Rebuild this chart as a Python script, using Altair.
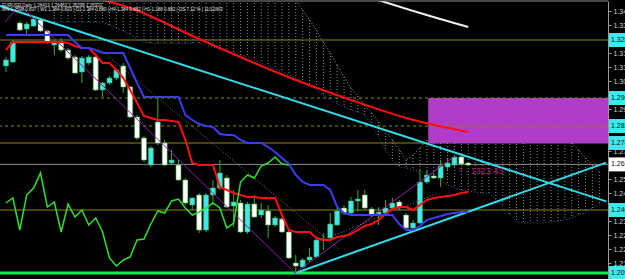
import altair as alt
import pandas as pd

# ---------------- data (EURUSD, Daily) ----------------
opens = [1.3125,1.3145,1.3340,1.3310,1.3325,1.3355,1.3300,1.3230,1.3245,1.3205,
         1.3170,1.3095,1.3140,1.3170,1.3005,1.3040,1.3065,1.3125,1.3020,1.2870,
         1.2765,1.2630,1.2845,1.2740,1.2640,1.2630,1.2555,1.2430,1.2480,1.2305,
         1.2480,1.2515,1.2565,1.2425,1.2440,1.2295,1.2435,1.2380,1.2400,1.2330,
         1.2360,1.2295,1.2140,1.2120,1.2155,1.2170,1.2255,1.2265,1.2330,1.2415,
         1.2390,1.2450,1.2480,1.2410,1.2380,1.2390,1.2415,1.2445,1.2380,1.2315,
         1.2340,1.2545,1.2575,1.2565,1.2620,1.2630,1.2670,1.2640]
highs = [1.3170,1.3255,1.3350,1.3345,1.3370,1.3365,1.3305,1.3255,1.3265,1.3215,
         1.3180,1.3175,1.3180,1.3175,1.3045,1.3075,1.3110,1.3140,1.3025,1.2880,
         1.2775,1.2725,1.2965,1.2755,1.2705,1.2655,1.2565,1.2470,1.2490,1.2490,
         1.2555,1.2655,1.2580,1.2505,1.2455,1.2445,1.2480,1.2440,1.2430,1.2375,
         1.2370,1.2305,1.2180,1.2165,1.2215,1.2265,1.2290,1.2390,1.2415,1.2430,
         1.2470,1.2505,1.2505,1.2420,1.2420,1.2455,1.2465,1.2455,1.2390,1.2355,
         1.2605,1.2605,1.2585,1.2655,1.2665,1.2680,1.2680,1.2645]
lows = [1.3095,1.3140,1.3300,1.3280,1.3320,1.3295,1.3235,1.3180,1.3195,1.3155,
        1.3085,1.3040,1.3130,1.3000,1.2970,1.3030,1.3055,1.2990,1.2865,1.2755,
        1.2645,1.2620,1.2730,1.2625,1.2630,1.2550,1.2430,1.2405,1.2290,1.2295,
        1.2430,1.2505,1.2415,1.2320,1.2290,1.2285,1.2365,1.2365,1.2265,1.2320,
        1.2290,1.2160,1.2095,1.2115,1.2145,1.2165,1.2205,1.2255,1.2325,1.2380,
        1.2385,1.2395,1.2410,1.2370,1.2330,1.2385,1.2410,1.2405,1.2310,1.2305,
        1.2335,1.2535,1.2560,1.2520,1.2605,1.2620,1.2630,1.2625]
closes = [1.3155,1.3245,1.3305,1.3335,1.3360,1.3300,1.3245,1.3245,1.3205,1.3165,
          1.3090,1.3165,1.3170,1.3005,1.3040,1.3065,1.3105,1.3020,1.2870,1.2765,
          1.2655,1.2715,1.2740,1.2630,1.2655,1.2555,1.2440,1.2465,1.2305,1.2480,
          1.2515,1.2590,1.2420,1.2445,1.2295,1.2435,1.2370,1.2405,1.2330,1.2365,
          1.2295,1.2165,1.2125,1.2155,1.2170,1.2255,1.2260,1.2335,1.2400,1.2390,
          1.2450,1.2460,1.2415,1.2380,1.2395,1.2415,1.2440,1.2415,1.2315,1.2340,
          1.2545,1.2580,1.2565,1.2625,1.2640,1.2670,1.2635,1.2630]

tenkan = [1.3205,1.3245,1.3245,1.3245,1.3245,1.3245,1.3245,1.3245,1.3245,1.3240,
          1.3225,1.3215,1.3215,1.3180,1.3140,1.3140,1.3105,1.3065,1.3005,1.2940,
          1.2875,1.2865,1.2855,1.2855,1.2850,1.2845,1.2755,1.2640,1.2630,1.2630,
          1.2630,1.2520,1.2505,1.2490,1.2480,1.2470,1.2470,1.2465,1.2465,1.2465,
          1.2380,1.2305,1.2295,1.2295,1.2295,1.2265,1.2255,1.2255,1.2270,1.2275,
          1.2285,1.2305,1.2325,1.2335,1.2355,1.2385,1.2410,1.2420,1.2420,1.2405,
          1.2430,1.2455,1.2465,1.2470,1.2475,1.2480,1.2490,1.2495]
kijun = [1.3280,1.3280,1.3280,1.3280,1.3280,1.3280,1.3280,1.3280,1.3280,1.3280,
         1.3245,1.3215,1.3215,1.3205,1.3190,1.3190,1.3190,1.3190,1.3115,1.3040,
         1.2970,1.2970,1.2970,1.2970,1.2970,1.2970,1.2880,1.2855,1.2835,1.2825,
         1.2820,1.2785,1.2780,1.2780,1.2755,1.2740,1.2740,1.2740,1.2720,1.2695,
         1.2665,1.2635,1.2580,1.2545,1.2530,1.2530,1.2530,1.2505,1.2420,1.2390,
         1.2380,1.2380,1.2380,1.2380,1.2380,1.2380,1.2380,1.2335,1.2305,1.2305,
         1.2325,1.2355,1.2365,1.2375,1.2385,1.2390,1.2395,1.2395]
chikou_shift = 26

# Kumo (cloud) from bar 7 to bar 86 (shifted forward)
cloud_start = 7
span_up = [1.3470]*35 + [
    1.3455,1.3405,1.3355,1.3305,1.3245,1.3190,1.3130,1.3070,1.3015,1.2975,
    1.2930,1.2890,1.2845,1.2805,1.2755,1.2705,1.2655,1.2680,1.2715,1.2755,
    1.2785,1.2815,1.2830,1.2845,1.2855,1.2855,1.2855,1.2855,1.2855,1.2855,
    1.2855,1.2855,1.2855,1.2845,1.2835,1.2820,1.2805,1.2790,1.2775,1.2760,
    1.2740,1.2705,1.2665,1.2630,1.2595]
span_lo = [1.3345]*8 + [1.3330,1.3315,1.3300,1.3280,1.3260,1.3245] + [1.3240]*8 + [
    1.3230,1.3220,1.3210,1.3200,1.3190,1.3180,1.3170,1.3155,1.3140,1.3125,1.3110,1.3095,
    1.3080,1.3065,1.3045,1.3025,1.3005,1.2980,1.2955,1.2935,1.2920,1.2905,1.2895,1.2880,
    1.2830,1.2770,1.2705,1.2655,1.2620,1.2615,1.2605,1.2600,1.2590,1.2580,1.2555,1.2530,
    1.2515,1.2505,1.2500,1.2495,1.2490,1.2490,1.2455,1.2420,1.2380,1.2345,1.2340,1.2340,
    1.2340,1.2340,1.2345,1.2350,1.2355,1.2365,1.2380,1.2395,1.2415,1.2430]

# long moving averages
ma_red_bar = [13, 18, 28, 42, 50, 58, 67]
ma_red_val = [1.3465, 1.3415, 1.3260, 1.3055, 1.2955, 1.2865, 1.2795]
ma_white_bar = [53, 60, 67]
ma_white_val = [1.3465, 1.3390, 1.3320]

# trend lines
trend_down_bar = [-1, 87]
trend_down_val = [1.3427, 1.2448]
trend_up_bar = [42, 87]
trend_up_val = [1.2090, 1.2642]
zigzag_bar = [-0.14, 2.0, 41.9, 65.1]
zigzag_val = [1.3345, 1.3430, 1.2090, 1.2675]
gray1_bar = [13.4, 48.3]
gray1_val = [1.3215, 1.2210]
gray2_bar = [46.9, 62.6]
gray2_val = [1.2270, 1.2490]

# horizontal levels
levels_solid = [1.3255, 1.2740, 1.2405]
levels_dash = [1.2965, 1.2825]
bid_price = 1.2633
support = 1.2090

# zone rectangle
zone_bar = [61.2, 90]
zone_val = [1.2965, 1.2740]

# price axis
tick_vals = [1.340, 1.333, 1.319, 1.312, 1.305, 1.291, 1.270, 1.256, 1.249,
             1.235, 1.228, 1.221, 1.214]
hl_prices = [1.3255, 1.2965, 1.2825, 1.2740, 1.2633, 1.2405, 1.2090]
hl_labels = ["1.32550", "1.29650", "1.28250", "1.27400", "1.26330", "1.24050", "1.20900"]
hl_kind = ["lvl", "lvl", "lvl", "lvl", "bid", "lvl", "sup"]

header1 = "EURUSD,Daily  1.26413 1.26462 1.26299 1.26331"
header2 = "MN 1.2598 0.837 | W1 1.384 0.833 | D1 1.384 0.880 | H4 1.384 0.882 | H1 1.188 0.882 | DS 7.12 % | 11/12/8/3"
timer_text = "^ \u00b7 1323:43"
timer_bar, timer_val = 65.6, 1.2598

# ---------------- frames ----------------
n = len(opens)
candles = pd.DataFrame({"i": list(range(n)), "open": opens, "high": highs,
                        "low": lows, "close": closes})
candles["dir"] = ["up" if c >= o else "down" for o, c in zip(opens, closes)]
ichi = pd.DataFrame({"i": list(range(n)), "tenkan": tenkan, "kijun": kijun})
chik = pd.DataFrame({"i": [k - chikou_shift for k in range(chikou_shift, n)],
                     "v": closes[chikou_shift:]})
cloud = pd.DataFrame({"i": list(range(cloud_start, cloud_start + len(span_up))),
                      "a": span_up, "b": span_lo})

def line_df(b, v):
    return pd.DataFrame({"i": b, "v": v})

X = alt.Scale(domain=[-0.1426, 86.53], nice=False, zero=False)
Y = alt.Scale(domain=[1.2060, 1.3450], nice=False, zero=False)
xq = lambda f="i": alt.X(f"{f}:Q", scale=X, axis=None)
yq = lambda f: alt.Y(f"{f}:Q", scale=Y, axis=None)

# cloud hatch
hatch = alt.Chart(cloud).mark_rule(color="#8c8c8c", strokeDash=[1, 2], strokeWidth=1, clip=True).encode(
    x=xq(), y=yq("a"), y2="b")
cl_a = alt.Chart(cloud).mark_line(color="#a89a70", strokeDash=[1, 2], strokeWidth=1, clip=True).encode(
    x=xq(), y=yq("a"))
cl_b = alt.Chart(cloud).mark_line(color="#3c6cb0", strokeDash=[1, 2], strokeWidth=1, clip=True).encode(
    x=xq(), y=yq("b"))

# zone
zone = alt.Chart(pd.DataFrame({"x1": [zone_bar[0]], "x2": [zone_bar[1]],
                               "t": [zone_val[0]], "b": [zone_val[1]]})).mark_rect(
    color="#b03cc8", clip=True).encode(x=xq("x1"), x2="x2", y=yq("t"), y2="b")

# levels (with the price axis)
lv_solid = alt.Chart(pd.DataFrame({"v": levels_solid})).mark_rule(
    color="#8a8a10", strokeWidth=1).encode(
    y=alt.Y("v:Q", scale=Y, axis=alt.Axis(orient="right", values=tick_vals, format=".5f",
                                          title=None, grid=False, labelColor="#d0d0d0",
                                          labelFont="Liberation Sans", labelFontSize=7,
                                          domainColor="#9a9a9a", tickColor="#9a9a9a",
                                          tickSize=3, labelPadding=2)))
lv_dash = alt.Chart(pd.DataFrame({"v": levels_dash})).mark_rule(
    color="#8a8a10", strokeWidth=1, strokeDash=[3, 3]).encode(y=yq("v"))
bid = alt.Chart(pd.DataFrame({"v": [bid_price]})).mark_rule(
    color="#8c8c8c", strokeWidth=1).encode(y=yq("v"))
sup = alt.Chart(pd.DataFrame({"v": [support]})).mark_rule(
    color="#00f050", strokeWidth=3).encode(y=yq("v"))

# candles
wick = alt.Chart(candles).mark_rule(color="#3ca83c", strokeWidth=1).encode(
    x=xq(), y=yq("low"), y2="high")
body = alt.Chart(candles).mark_bar(size=5, stroke="#3ca83c", strokeWidth=0.6).encode(
    x=xq(), y=yq("open"), y2="close",
    color=alt.Color("dir:N", scale=alt.Scale(domain=["up", "down"], range=["#3ee8ec", "#ffffff"]),
                    legend=None))

# ichimoku lines
ten = alt.Chart(ichi).mark_line(color="#ff1010", strokeWidth=2, clip=True).encode(x=xq(), y=yq("tenkan"))
kij = alt.Chart(ichi).mark_line(color="#3c3cf0", strokeWidth=2, clip=True).encode(x=xq(), y=yq("kijun"))
chl = alt.Chart(chik).mark_line(color="#30e030", strokeWidth=1.5, clip=True).encode(x=xq(), y=yq("v"))

ma_r = alt.Chart(line_df(ma_red_bar, ma_red_val)).mark_line(
    color="#ff1010", strokeWidth=2, clip=True, interpolate="monotone").encode(x=xq(), y=yq("v"))
ma_w = alt.Chart(line_df(ma_white_bar, ma_white_val)).mark_line(
    color="#f0f0f0", strokeWidth=2, clip=True, interpolate="monotone").encode(x=xq(), y=yq("v"))

td = alt.Chart(line_df(trend_down_bar, trend_down_val)).mark_line(
    color="#30dcea", strokeWidth=2, clip=True).encode(x=xq(), y=yq("v"))
tu = alt.Chart(line_df(trend_up_bar, trend_up_val)).mark_line(
    color="#30dcea", strokeWidth=2, clip=True).encode(x=xq(), y=yq("v"))
zz = alt.Chart(line_df(zigzag_bar, zigzag_val)).mark_line(
    color="#9020a8", strokeWidth=1, clip=True).encode(x=xq(), y=yq("v"))
g1 = alt.Chart(line_df(gray1_bar, gray1_val)).mark_line(
    color="#7c7c7c", strokeWidth=1, strokeDash=[1, 2], clip=True).encode(x=xq(), y=yq("v"))
g2 = alt.Chart(line_df(gray2_bar, gray2_val)).mark_line(
    color="#7c7c7c", strokeWidth=1, strokeDash=[1, 2], clip=True).encode(x=xq(), y=yq("v"))

timer = alt.Chart(pd.DataFrame({"i": [timer_bar], "v": [timer_val], "t": [timer_text]})).mark_text(
    color="#b02878", fontSize=9, font="Liberation Sans", align="left", baseline="middle").encode(
    x=xq(), y=yq("v"), text="t:N")

# highlighted axis labels
hl = pd.DataFrame({"v": hl_prices, "lab": hl_labels, "kind": hl_kind})
hl["t"] = hl["v"] + 0.0035
hl["b"] = hl["v"] - 0.0035
kind_scale = alt.Scale(domain=["lvl", "bid", "sup"], range=["#c8cc10", "#dcdcdc", "#10e050"])
hl_box = alt.Chart(hl).mark_rect().encode(
    x=alt.value(609), x2=alt.value(640), y=yq("t"), y2="b",
    color=alt.Color("kind:N", scale=kind_scale, legend=None))
hl_txt = alt.Chart(hl).mark_text(color="#101010", fontSize=7, font="Liberation Sans",
                                 align="left", baseline="middle").encode(
    x=alt.value(611), y=yq("v"), text="lab:N")

top_border = alt.Chart(pd.DataFrame({"k": [0]})).mark_rule(color="#8c8c8c").encode(
    x=alt.value(0), x2=alt.value(608), y=alt.value(0))

head = alt.Chart(pd.DataFrame({"t": [header1, header2], "row": [0, 1]})).mark_text(
    color="#e0e0e0", fontSize=4.5, font="Liberation Sans", align="left", baseline="middle").encode(
    x=alt.value(2), y=alt.Y("row:O", scale=alt.Scale(range=[3.5, 11]), axis=None), text="t:N")

chart = alt.layer(
    lv_solid, hatch, cl_a, cl_b, zone, lv_dash, bid, sup,
    wick, body, ma_r, ma_w, td, tu, zz, g1, g2, ten, kij, chl,
    timer, hl_box, hl_txt, top_border, head
).properties(
    width=608, height=278, background="#000000",
    padding={"left": 0, "top": 1, "right": 17, "bottom": 0},
    autosize=alt.AutoSizeParams(type="none")
).configure_view(stroke=None)

chart.save("out.html", embed_options={"renderer": "svg", "actions": False})
